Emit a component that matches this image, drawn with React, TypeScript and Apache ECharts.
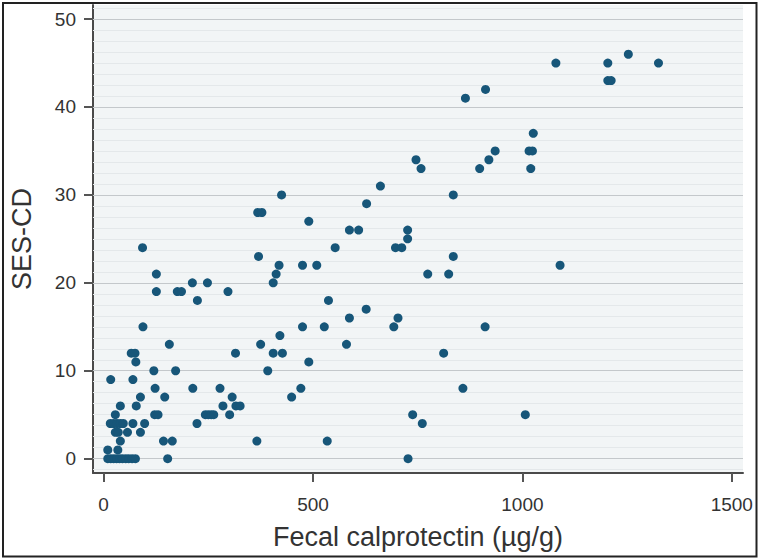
import { useEffect, useRef } from "react";
import * as echarts from "echarts";

// Fecal calprotectin (µg/g) per patient, grouped by SES-CD row
const calprotectin: number[] = [
  10, 17, 24, 31, 38, 45, 53, 60, 68, 76, 153, 727,
  10, 34,
  40, 143, 164, 366, 534,
  28, 35, 57, 88,
  16, 24, 32, 40, 47, 70, 98, 223, 761,
  28, 122, 130, 243, 250, 257, 263, 301, 738, 1007,
  40, 78, 285, 316, 326,
  88, 146, 307, 449,
  123, 213, 278, 471, 858,
  17, 70,
  120, 172, 392,
  77, 490,
  66, 75, 315, 405, 427, 812,
  157, 375, 580,
  421,
  94, 475, 527, 693, 911,
  587, 703,
  627,
  224, 537,
  126, 176, 186, 297,
  212, 248, 405,
  126, 412, 774, 824,
  419, 475, 509, 1090,
  370, 835,
  93, 553, 697, 712,
  726,
  587, 609, 726,
  490,
  368, 378,
  628,
  425, 835,
  661,
  758, 898, 1020,
  746, 920,
  935, 1016, 1024,
  1026,
  864,
  912,
  1204, 1212,
  1080, 1204, 1325,
  1253,
];

// SES-CD score for the same patients
const sesCd: number[] = [
  0, 0, 0, 0, 0, 0, 0, 0, 0, 0, 0, 0,
  1, 1,
  2, 2, 2, 2, 2,
  3, 3, 3, 3,
  4, 4, 4, 4, 4, 4, 4, 4, 4,
  5, 5, 5, 5, 5, 5, 5, 5, 5, 5,
  6, 6, 6, 6, 6,
  7, 7, 7, 7,
  8, 8, 8, 8, 8,
  9, 9,
  10, 10, 10,
  11, 11,
  12, 12, 12, 12, 12, 12,
  13, 13, 13,
  14,
  15, 15, 15, 15, 15,
  16, 16,
  17,
  18, 18,
  19, 19, 19, 19,
  20, 20, 20,
  21, 21, 21, 21,
  22, 22, 22, 22,
  23, 23,
  24, 24, 24, 24,
  25,
  26, 26, 26,
  27,
  28, 28,
  29,
  30, 30,
  31,
  33, 33, 33,
  34, 34,
  35, 35, 35,
  37,
  41,
  42,
  43, 43,
  45, 45, 45,
  46,
];

const xTicks: number[] = [0, 500, 1000, 1500];
const yTicks: number[] = [0, 10, 20, 30, 40, 50];

const FONT = "'Liberation Sans', Arial, Helvetica, sans-serif";

export default function App() {
  const ref = useRef<HTMLDivElement>(null);

  useEffect(() => {
    if (!ref.current) return;
    const chart = echarts.init(ref.current, undefined, { renderer: "svg" });

    const points = calprotectin.map((x, i) => [x, sesCd[i]]);

    // faint background texture lines between the major grid lines
    const faint: number[] = [];
    for (let k = -1; k <= 41; k++) {
      const v = k * 1.25;
      if (k % 8 !== 0) faint.push(v);
    }

    const option: any = {
      animation: false,
      backgroundColor: "#ffffff",
      textStyle: { fontFamily: FONT },
      grid: {
        left: 86,
        right: 17,
        top: 5,
        bottom: 87,
        show: true,
        backgroundColor: "#f2f5f6",
        borderWidth: 0,
      },
      xAxis: {
        type: "value",
        min: -25.3,
        max: 1526.8,
        name: "Fecal calprotectin (µg/g)",
        nameLocation: "middle",
        nameGap: 50,
        nameTextStyle: { fontSize: 27, color: "#333333", fontFamily: FONT },
        axisLine: { show: true, onZero: false, lineStyle: { color: "#4a4a4a", width: 2 } },
        axisTick: {
          show: true,
          customValues: xTicks,
          length: 9,
          lineStyle: { color: "#555555", width: 2 },
        },
        axisLabel: {
          customValues: xTicks,
          fontSize: 19,
          color: "#333333",
          margin: 22,
          fontFamily: FONT,
          formatter: (v: number) => String(v),
        },
        splitLine: { show: false },
      },
      yAxis: {
        type: "value",
        min: -1.63,
        max: 51.6,
        name: "SES-CD",
        nameLocation: "middle",
        nameGap: 58,
        nameRotate: 90,
        nameTextStyle: { fontSize: 27, color: "#333333", fontFamily: FONT },
        axisLine: { show: true, onZero: false, lineStyle: { color: "#4a4a4a", width: 2 } },
        axisTick: {
          show: true,
          customValues: yTicks,
          length: 9,
          lineStyle: { color: "#555555", width: 2 },
        },
        axisLabel: {
          customValues: yTicks,
          fontSize: 19,
          color: "#333333",
          margin: 17,
          fontFamily: FONT,
          formatter: (v: number) => String(v),
        },
        splitLine: { show: false },
      },
      series: [
        {
          type: "scatter",
          data: [],
          z: 1,
          silent: true,
          markLine: {
            silent: true,
            symbol: "none",
            label: { show: false },
            animation: false,
            lineStyle: { color: "#e4e8ea", width: 1, type: "solid" },
            data: faint.map((v) => ({ yAxis: v })),
          },
        },
        {
          type: "scatter",
          data: [],
          z: 2,
          silent: true,
          markLine: {
            silent: true,
            symbol: "none",
            label: { show: false },
            animation: false,
            lineStyle: { color: "#c4c8cb", width: 1.2, type: "solid" },
            data: yTicks.map((v) => ({ yAxis: v })),
          },
        },
        {
          type: "scatter",
          data: points,
          z: 5,
          symbol: "circle",
          symbolSize: 9,
          itemStyle: { color: "#175679", opacity: 1 },
        },
      ],
      graphic: [
        {
          type: "rect",
          shape: { x: 3, y: 3, width: 753.5, height: 553.5 },
          style: { fill: "none", stroke: "#222222", lineWidth: 2 },
          silent: true,
          z: 100,
        },
      ],
    };

    chart.setOption(option);
    return () => chart.dispose();
  }, []);

  return (
    <div
      ref={ref}
      style={{ position: "fixed", left: 0, top: 0, width: 760, height: 560 }}
    />
  );
}
